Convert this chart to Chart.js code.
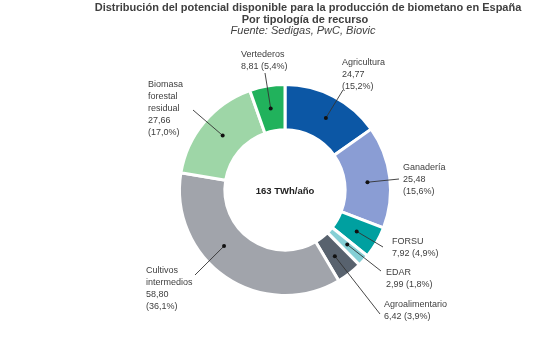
<!DOCTYPE html>
<html><head><meta charset="utf-8">
<script src="https://cdn.jsdelivr.net/npm/chart.js@4/dist/chart.umd.min.js"></script>
<style>html,body{margin:0;padding:0;background:#fff}#w{width:540px;height:337px}</style>
</head><body><div id="w"><canvas id="c" width="540" height="337"></canvas></div>
<script>
const categories = ["Agricultura","Ganadería","FORSU","EDAR","Agroalimentario","Cultivos intermedios","Biomasa forestal residual","Vertederos"];
const values = [24.77, 25.48, 7.92, 2.99, 6.42, 58.80, 27.66, 8.81];
const shares = ["15,2%","15,6%","4,9%","1,8%","3,9%","36,1%","17,0%","5,4%"];
const labelLines = [
  ["Agricultura","24,77","(15,2%)"],
  ["Ganadería","25,48","(15,6%)"],
  ["FORSU","7,92 (4,9%)"],
  ["EDAR","2,99 (1,8%)"],
  ["Agroalimentario","6,42 (3,9%)"],
  ["Cultivos","intermedios","58,80","(36,1%)"],
  ["Biomasa","forestal","residual","27,66","(17,0%)"],
  ["Vertederos","8,81 (5,4%)"]
];
const titleLines = ["Distribución del potencial disponible para la producción de biometano en España","Por tipología de recurso","Fuente: Sedigas, PwC, Biovic"];
const centerText = "163 TWh/año";
const colors = ["#0c57a5","#8a9dd4","#00a0a0","#85cfd5","#58626e","#a1a4ab","#9ed6a7","#21b25c"];

// label layout relative to chart centre: text x, text top y, line end x/y, dot position along arc
const layout = [
  {tx:57, ty:-132, lx:58, ly:-100, f:0.54},
  {tx:118, ty:-27, lx:114, ly:-11, f:0.53},
  {tx:107, ty:47, lx:98, ly:57, f:0.51},
  {tx:101, ty:78, lx:96, ly:81, f:0.4},
  {tx:99, ty:110, lx:95, ly:124, f:0.55},
  {tx:-139, ty:76, lx:-90, ly:85, f:0.6},
  {tx:-137, ty:-110, lx:-92, ly:-80, f:0.52},
  {tx:-44, ty:-140, lx:-20, ly:-117, f:0.49}
];

const annot = {
  id:'annot',
  afterDraw(chart){
    const ctx = chart.ctx;
    const meta = chart.getDatasetMeta(0);
    const cx = meta.data[0].x, cy = meta.data[0].y;
    ctx.save();
    ctx.fillStyle = '#404040';
    ctx.textAlign = 'center'; ctx.textBaseline = 'middle';
    ctx.font = 'bold 11px "Liberation Sans", Arial, sans-serif';
    ctx.fillText(titleLines[0], 308, 8);
    ctx.fillText(titleLines[1], 305, 20);
    ctx.font = 'italic 11px "Liberation Sans", Arial, sans-serif';
    ctx.fillText(titleLines[2], 303, 31);
    ctx.fillStyle = '#222';
    ctx.font = 'bold 9.5px "Liberation Sans", Arial, sans-serif';
    ctx.fillText(centerText, cx, cy + 1);
    ctx.textAlign = 'left'; ctx.textBaseline = 'top';
    ctx.font = '9px "Liberation Sans", Arial, sans-serif';
    meta.data.forEach((arc, i) => {
      const L = layout[i];
      const a = arc.startAngle + L.f * (arc.endAngle - arc.startAngle);
      const r = (arc.innerRadius + arc.outerRadius) / 2;
      const px = cx + r * Math.cos(a), py = cy + r * Math.sin(a);
      ctx.strokeStyle = '#333'; ctx.lineWidth = 0.9;
      ctx.beginPath(); ctx.moveTo(px, py); ctx.lineTo(cx + L.lx, cy + L.ly); ctx.stroke();
      ctx.fillStyle = '#111';
      ctx.beginPath(); ctx.arc(px, py, 2, 0, Math.PI*2); ctx.fill();
      ctx.fillStyle = '#404040';
      labelLines[i].forEach((t, k) => ctx.fillText(t, cx + L.tx, cy + L.ty + k*12));
    });
    ctx.restore();
  }
};

new Chart(document.getElementById('c'), {
  type:'doughnut',
  data:{labels:categories, datasets:[{data:values, backgroundColor:colors, borderColor:'#fff', borderWidth:3, hoverOffset:0}]},
  options:{
    responsive:false, animation:false, cutout:'57%',
    layout:{padding:{left:178, right:148, top:83, bottom:40}},
    plugins:{legend:{display:false}, tooltip:{enabled:false}, title:{display:false}}
  },
  plugins:[annot]
});
</script></body></html>
